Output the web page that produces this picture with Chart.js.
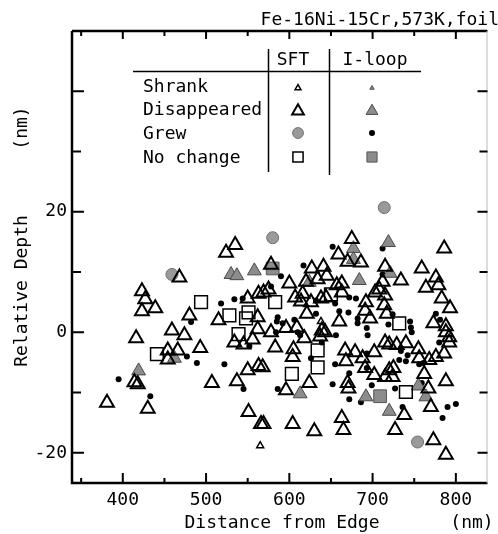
<!DOCTYPE html>
<html>
<head>
<meta charset="utf-8">
<script src="https://cdn.jsdelivr.net/npm/chart.js@4.4.1/dist/chart.umd.min.js"></script>
<style>
  html, body { margin: 0; padding: 0; background: #fff; }
</style>
</head>
<body>
<canvas id="myChart" width="498" height="534"></canvas>
<script>
// [distance from edge (nm), relative depth (nm)]
const sftShrank = [[565, -18.8], [638, 1.8]];
const sftDisappeared = [
  [381, -11.7], [414, -8.3], [418, -8.6], [423, 6.8], [427, 5.5], [423, 3.5], [439, 4.0], [416, -1.0],
  [430, -12.7], [468, 9.1], [480, 2.8], [459, 0.3], [474, -0.5], [454, -3.0], [466, -3.0], [454, -4.5],
  [493, -2.6], [507, -8.4], [515, 2.0], [524, 13.2], [535, 14.5], [534, -1.7], [545, -2.0], [556, -1.2],
  [537, -8.1], [550, 5.6], [562, 2.5], [562, 0.5], [563, 6.4], [569, 6.6], [550, -6.3], [563, -5.6],
  [551, -13.2], [566, -15.2], [578, 11.2], [575, 7.1], [600, 8.1], [620, 8.4], [627, 10.6], [634, 8.8],
  [641, 10.9], [607, 5.8], [616, 6.4], [614, 5.1], [626, 5.0], [638, 5.6], [644, 5.8], [621, 3.1],
  [596, 0.7], [578, 0], [609, 0.8], [618, -1.0], [637, -0.7], [639, 0.3], [583, -2.5], [605, -2.8],
  [604, -4.1], [568, -5.8], [624, -8.4], [596, -9.6], [569, -15.2], [604, -15.2], [630, -16.4],
  [675, 15.5], [659, 12.9], [670, 11.7], [686, 11.6], [645, 9.4], [715, 10.9], [712, 8.4], [657, 7.8],
  [663, 8.1], [663, 6.6], [692, 5.0], [703, 6.6], [708, 7.1], [715, 6.1], [714, 4.5], [717, 3.1],
  [691, 3.6], [697, 2.3], [660, 1.8], [643, 0], [715, -1.7], [667, -3.0], [679, -3.3], [688, -4.3],
  [668, -4.8], [702, -3.3], [691, -5.9], [702, -7.1], [715, -7.4], [720, -6.3], [670, -8.4], [671, -9.3],
  [663, -14.2], [665, -16.2], [786, 13.9], [759, 10.6], [734, 8.6], [776, 9.1], [764, 7.4], [779, 7.8],
  [783, 5.6], [793, 4.0], [773, 1.5], [788, 1.0], [788, 0], [792, -0.8], [792, -1.7], [720, -2.0],
  [729, -2.1], [740, -1.8], [755, -2.8], [756, -4.3], [768, -4.6], [776, -4.1], [786, -3.5], [725, -5.9],
  [724, -7.4], [762, -6.9], [788, -8.1], [767, -9.3], [770, -12.4], [738, -13.7], [727, -16.2],
  [773, -17.9], [788, -20.3]
];
const sftGrew = [[459, 9.6], [580, 15.7], [714, 20.7], [754, -18.2]];
const sftNoChange = [
  [441, -3.6], [494, 5.0], [528, 2.8], [551, 3.3], [548, 2.3], [539, -0.3], [583, 5.0], [634, -3.0],
  [634, -5.8], [603, -6.9], [650, 6.3], [732, 1.5], [740, -9.9]
];
const iloopShrank = [];
const iloopDisappeared = [
  [419, -6.4], [462, -4.3], [530, 9.6], [537, 9.4], [558, 10.2], [624, 8.3], [613, -10.2], [719, 14.9],
  [677, 13.9], [677, 12.1], [684, 8.6], [721, 9.8], [692, -10.7], [720, -13.1], [755, -8.9], [764, -10.7]
];
const iloopGrew = [
  [395, -7.8], [433, -10.6], [482, 1.7], [477, -4.0], [489, -5.1], [518, 4.8], [534, 5.5], [544, 5.6],
  [552, -2.3], [522, -5.3], [545, -9.4], [590, 9.3], [617, 11.1], [578, 7.6], [632, 5.3], [632, 3.1],
  [586, 2.5], [585, 1.8], [592, 1.5], [606, 2.1], [584, 0], [610, 0], [613, -0.5], [639, -1.7],
  [626, -4.3], [586, -9.4], [712, 13.9], [652, 14.2], [712, 9.6], [672, 5.8], [680, 5.6], [655, 4.8],
  [660, 3.5], [671, 3.3], [682, 2.3], [682, 1.5], [693, 0.7], [719, 1.3], [656, -0.5], [694, -0.5],
  [693, -3.5], [655, -5.3], [693, -5.9], [672, -6.8], [652, -8.6], [699, -8.8], [672, -11.1], [686, -11.6],
  [724, 3.0], [745, 1.8], [746, 0.8], [747, 0], [776, 3.1], [781, 2.1], [780, -1.7], [734, -3.1],
  [742, -3.8], [732, -4.6], [740, -4.8], [756, -5.3], [761, -5.1], [727, -9.3], [759, -8.4], [790, -12.4],
  [800, -11.9], [784, -14.2], [736, -12.4]
];
const iloopNoChange = [[580, 10.6], [709, -10.6]];

const xLabelTicks = [400, 500, 600, 700, 800];
const xMarkTicks = [350, 400, 450, 500, 550, 600, 650, 700, 750, 800];
const yLabelTicks = [-20, 0, 20];
const yMarkTicks = [-20, -10, 0, 10, 20, 30, 40];
const rowNames = ['Shrank', 'Disappeared', 'Grew', 'No change'];
const colNames = ['SFT', 'I-loop'];

const FONT = "'DejaVu Sans Mono', monospace";
const GREY = '#8c8c8c';

function pts(arr) { return arr.map(p => ({ x: p[0], y: p[1] })); }

const styles = {
  sftShrank:        { pointStyle: 'triangle', pointRadius: 4, backgroundColor: 'rgba(0,0,0,0)', borderColor: '#000', borderWidth: 1.5 },
  sftDisappeared:   { pointStyle: 'triangle', pointRadius: 8, backgroundColor: 'rgba(0,0,0,0)', borderColor: '#000', borderWidth: 2 },
  sftGrew:          { pointStyle: 'circle', pointRadius: 6, backgroundColor: '#9a9a9a', borderColor: '#6e6e6e', borderWidth: 1 },
  sftNoChange:      { pointStyle: 'rect', pointRadius: 9, backgroundColor: 'rgba(0,0,0,0)', borderColor: '#000', borderWidth: 1.5 },
  iloopShrank:      { pointStyle: 'triangle', pointRadius: 3, backgroundColor: GREY, borderColor: '#555', borderWidth: 1 },
  iloopDisappeared: { pointStyle: 'triangle', pointRadius: 8, backgroundColor: GREY, borderColor: '#4a4a4a', borderWidth: 1 },
  iloopGrew:        { pointStyle: 'circle', pointRadius: 3, backgroundColor: '#000', borderColor: '#000', borderWidth: 0 },
  iloopNoChange:    { pointStyle: 'rect', pointRadius: 9, backgroundColor: GREY, borderColor: '#555', borderWidth: 1 }
};

function ds(label, data, st) {
  return Object.assign({ label: label, data: pts(data) }, st);
}

const frame = {
  id: 'frame',
  afterDraw(chart) {
    const ctx = chart.ctx;
    const a = chart.chartArea;
    const xs = chart.scales.x, ys = chart.scales.y;
    ctx.save();
    ctx.strokeStyle = '#000';
    ctx.fillStyle = '#000';

    // box
    ctx.lineWidth = 2.5;
    ctx.beginPath();
    ctx.moveTo(a.left, a.top); ctx.lineTo(a.left, a.bottom); ctx.lineTo(a.right, a.bottom);
    ctx.moveTo(a.left, a.top); ctx.lineTo(a.right, a.top);
    ctx.stroke();
    ctx.lineWidth = 1;
    ctx.strokeStyle = '#bbb';
    ctx.beginPath(); ctx.moveTo(a.right - 0.5, a.top); ctx.lineTo(a.right - 0.5, a.bottom); ctx.stroke();
    ctx.strokeStyle = '#000';

    // inward ticks
    ctx.lineWidth = 2;
    ctx.beginPath();
    xMarkTicks.forEach(v => {
      const px = xs.getPixelForValue(v);
      const major = v % 100 === 0;
      ctx.moveTo(px, a.bottom); ctx.lineTo(px, a.bottom - (major ? 10 : 5));
      ctx.moveTo(px, a.top); ctx.lineTo(px, a.top + (major ? 8 : 5));
    });
    yMarkTicks.forEach(v => {
      const py = ys.getPixelForValue(v);
      const major = v % 20 === 0;
      ctx.moveTo(a.left, py); ctx.lineTo(a.left + (major ? 12 : 9), py);
      ctx.moveTo(a.right, py); ctx.lineTo(a.right - (major ? 10 : 8), py);
    });
    ctx.stroke();

    // titles
    ctx.font = '18px ' + FONT;
    ctx.textBaseline = 'middle';
    ctx.textAlign = 'right';
    ctx.fillText('Fe-16Ni-15Cr,573K,foil', 499, 20);
    ctx.textAlign = 'center';
    ctx.fillText('Distance from Edge', 282, 523);
    ctx.fillText('(nm)', 472, 523);
    ctx.save();
    ctx.translate(22, 291);
    ctx.rotate(-Math.PI / 2);
    ctx.fillText('Relative Depth', 0, 0);
    ctx.restore();
    ctx.save();
    ctx.translate(22, 128);
    ctx.rotate(-Math.PI / 2);
    ctx.fillText('(nm)', 0, 0);
    ctx.restore();

    // legend table
    ctx.lineWidth = 1.5;
    ctx.beginPath();
    ctx.moveTo(133, 71.5); ctx.lineTo(421, 71.5);
    ctx.moveTo(268.5, 49); ctx.lineTo(268.5, 172);
    ctx.moveTo(329.5, 49); ctx.lineTo(329.5, 175);
    ctx.stroke();
    ctx.textAlign = 'center';
    ctx.fillText(colNames[0], 293, 60);
    ctx.fillText(colNames[1], 375, 60);
    ctx.textAlign = 'left';
    const rowY = [86, 109, 133, 157];
    rowNames.forEach((n, i) => ctx.fillText(n, 143, rowY[i] + 1));
    const keys = [
      ['sftShrank', 'iloopShrank'],
      ['sftDisappeared', 'iloopDisappeared'],
      ['sftGrew', 'iloopGrew'],
      ['sftNoChange', 'iloopNoChange']
    ];
    const colX = [298, 372];
    keys.forEach((pair, i) => {
      pair.forEach((k, j) => {
        const st = styles[k];
        let r = st.pointRadius;
        if (st.pointStyle === 'triangle') r = r * 0.85;
        if (st.pointStyle === 'rect') r = r * 0.8;
        if (st.pointStyle === 'circle' && r > 4) r = r * 0.9;
        ctx.fillStyle = st.backgroundColor;
        ctx.strokeStyle = st.borderColor;
        ctx.lineWidth = st.borderWidth;
        Chart.helpers.drawPoint(ctx, { pointStyle: st.pointStyle, radius: r, rotation: 0, borderWidth: st.borderWidth }, colX[j], rowY[i] + (st.pointStyle === 'triangle' ? 2 : 0));
      });
    });
    ctx.restore();
  }
};

new Chart(document.getElementById('myChart'), {
  type: 'scatter',
  data: {
    datasets: [
      ds('SFT Shrank', sftShrank, styles.sftShrank),
      ds('SFT Disappeared', sftDisappeared, styles.sftDisappeared),
      ds('SFT Grew', sftGrew, styles.sftGrew),
      ds('SFT No change', sftNoChange, styles.sftNoChange),
      ds('I-loop Shrank', iloopShrank, styles.iloopShrank),
      ds('I-loop Disappeared', iloopDisappeared, styles.iloopDisappeared),
      ds('I-loop Grew', iloopGrew, styles.iloopGrew),
      ds('I-loop No change', iloopNoChange, styles.iloopNoChange)
    ]
  },
  options: {
    responsive: false,
    animation: false,
    devicePixelRatio: 1,
    layout: { padding: { top: 31, right: 1, left: 0, bottom: 0 } },
    plugins: { legend: { display: false }, tooltip: { enabled: false } },
    scales: {
      x: {
        type: 'linear', min: 339, max: 838,
        afterBuildTicks: s => { s.ticks = xLabelTicks.map(v => ({ value: v })); },
        afterFit: s => { s.height = 51; },
        grid: { display: false, drawTicks: false },
        border: { display: false },
        ticks: { color: '#000', font: { family: FONT, size: 18 }, padding: 7, maxRotation: 0, autoSkip: false }
      },
      y: {
        type: 'linear', min: -25, max: 50,
        afterBuildTicks: s => { s.ticks = yLabelTicks.map(v => ({ value: v })); },
        afterFit: s => { s.width = 72; },
        grid: { display: false, drawTicks: false },
        border: { display: false },
        ticks: { color: '#000', font: { family: FONT, size: 18 }, padding: 5, autoSkip: false }
      }
    }
  },
  plugins: [frame]
});
</script>
</body>
</html>
